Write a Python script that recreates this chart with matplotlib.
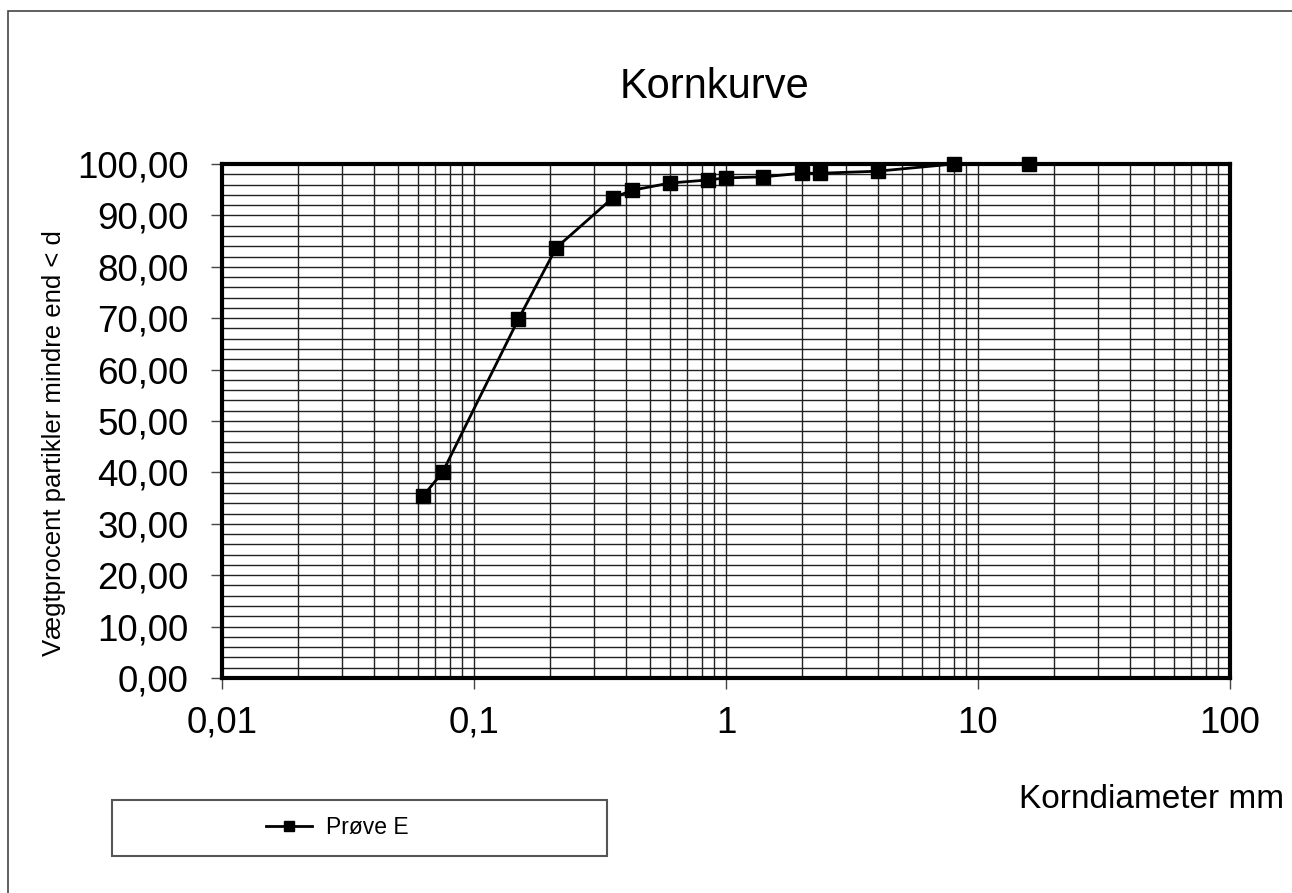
import matplotlib
matplotlib.use("Agg")
import matplotlib.pyplot as plt
from matplotlib.patches import Rectangle
from matplotlib.ticker import FixedLocator, LogLocator, MultipleLocator

plt.rcParams["font.family"] = ["Liberation Sans", "DejaVu Sans"]

# grain size (mm) and percent passing
diameter = [0.063, 0.075, 0.15, 0.212, 0.355, 0.425, 0.6, 0.85, 1.0, 1.4, 2.0, 2.36, 4.0, 8.0, 16.0]
passing = [35.5, 40.0, 69.8, 83.7, 93.4, 94.9, 96.3, 96.9, 97.3, 97.5, 98.2, 98.2, 98.6, 100.0, 100.0]

x_ticks = [0.01, 0.1, 1, 10, 100]
x_labels = ["0,01", "0,1", "1", "10", "100"]
y_ticks = [0, 10, 20, 30, 40, 50, 60, 70, 80, 90, 100]
y_labels = ["%d,00" % v for v in y_ticks]

W, H = 1292, 893


def fx(px):
    return px / W


def fy(py):
    return 1 - py / H


def main():
    fig = plt.figure(figsize=(W / 100, H / 100), dpi=100)
    fig.patch.set_facecolor("white")

    # outer chart frame (only left/top visible on the page)
    fig.patches.append(Rectangle((fx(8), -0.1), 1.2, fy(11) + 0.1,
                                 transform=fig.transFigure, fill=False,
                                 edgecolor="#444444", linewidth=1.2))

    ax = fig.add_axes([fx(222), fy(678), (1230 - 222) / W, (678 - 164) / H])
    ax.set_xscale("log")
    ax.set_xlim(0.01, 100)
    ax.set_ylim(0, 100)

    ax.xaxis.set_major_locator(FixedLocator(x_ticks))
    ax.xaxis.set_minor_locator(LogLocator(base=10, subs=range(2, 10)))
    ax.set_xticks(x_ticks)
    ax.set_xticklabels(x_labels, fontsize=26.5)
    ax.set_yticks(y_ticks)
    ax.set_yticklabels(y_labels, fontsize=26.5)
    ax.yaxis.set_minor_locator(MultipleLocator(2))

    ax.tick_params(which="major", direction="out", length=8, width=1, color="#444444")
    ax.tick_params(which="minor", length=0)
    ax.tick_params(axis="y", pad=16)
    ax.tick_params(axis="x", pad=12)

    ax.grid(True, which="both", axis="both", color="#222222", linewidth=1.0)
    ax.set_axisbelow(True)
    for s in ax.spines.values():
        s.set_linewidth(3)
        s.set_color("black")

    ax.plot(diameter, passing, color="black", linewidth=2, marker="s",
            markersize=10.5, markerfacecolor="black", label="Prøve E", zorder=5, clip_on=False)

    fig.text(fx(715), fy(98), "Kornkurve", fontsize=30, ha="center", va="baseline")
    fig.text(fx(54), fy(443), "Vægtprocent partikler mindre end < d",
             fontsize=18.5, rotation=90, ha="center", va="center")
    fig.text(fx(1019), fy(808), "Korndiameter mm", fontsize=24, ha="left", va="baseline")

    # legend box
    fig.patches.append(Rectangle((fx(112), fy(856)), (607 - 112) / W, 56 / H,
                                 transform=fig.transFigure, fill=False,
                                 edgecolor="#555555", linewidth=1.5))
    fig.legend(loc="center left", bbox_to_anchor=(fx(266), fy(828)),
               bbox_transform=fig.transFigure, frameon=False, fontsize=16.5,
               handlelength=2.0, handletextpad=0.6, borderpad=0, borderaxespad=0,
               markerscale=0.7)

    fig.savefig("out.png", dpi=100, facecolor="white")
    plt.close(fig)


if __name__ == "__main__":
    main()
